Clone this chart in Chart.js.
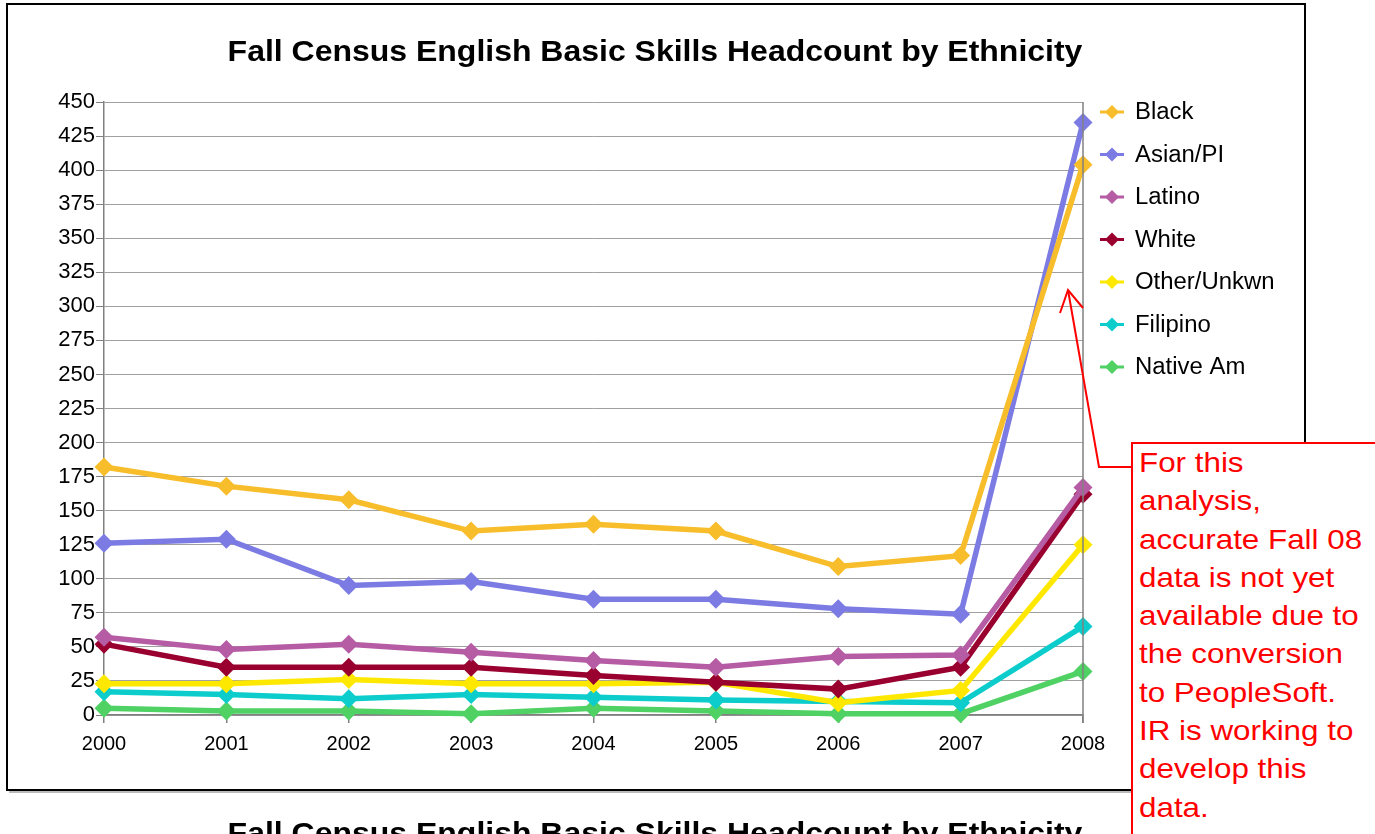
<!DOCTYPE html>
<html>
<head>
<meta charset="utf-8">
<script src="https://cdn.jsdelivr.net/npm/chart.js@4/dist/chart.umd.min.js"></script>
<style>
  body { margin: 0; background: #fff; overflow: hidden; }
  #wrap { position: relative; width: 1375px; height: 834px; }
  #title, #title2 {
    position: absolute; left: 0; width: 1310px; text-align: center;
    font: bold 30px "Liberation Sans", Arial, sans-serif; color: #000;
    transform: scaleX(1.066); transform-origin: 655px 0;
  }
  #title { top: 34px; }
  #title2 { top: 816px; }
  #note {
    position: absolute; left: 1131px; top: 442px; width: 250px; height: 420px;
    border: 2px solid #ff0000; background: #fff; box-sizing: border-box;
  }
  #note div {
    position: absolute; left: 6px; top: 0px; white-space: nowrap;
    font: 28px/38.3px "Liberation Sans", Arial, sans-serif; color: #ff0000;
    transform: scaleX(1.12); transform-origin: 0 0;
  }
</style>
</head>
<body>
<div id="wrap">
  <canvas id="myChart" width="1375" height="834"></canvas>
  <div id="title">Fall Census English Basic Skills Headcount by Ethnicity</div>
  <div id="title2">Fall Census English Basic Skills Headcount by Ethnicity</div>
  <div id="note"><div>For this<br>analysis,<br>accurate Fall 08<br>data is not yet<br>available due to<br>the conversion<br>to PeopleSoft.<br>IR is working to<br>develop this<br>data.</div></div>
</div>
<script>
var years = ['2000', '2001', '2002', '2003', '2004', '2005', '2006', '2007', '2008'];
var black = [182, 168, 158, 135, 140, 135, 109, 117, 404];
var asianPI = [126, 129, 95, 98, 85, 85, 78, 74, 435];
var latino = [57, 48, 52, 46, 40, 35, 43, 44, 167];
var white = [52, 35, 35, 35, 29, 24, 19, 35, 162];
var otherUnkwn = [23, 23, 26, 23, 23, 24, 9, 18, 125];
var filipino = [17, 15, 12, 15, 13, 11, 10, 9, 65];
var nativeAm = [5, 3, 3, 1, 5, 3, 1, 1, 32];
var yTicks = [0, 25, 50, 75, 100, 125, 150, 175, 200, 225, 250, 275, 300, 325, 350, 375, 400, 425, 450];

function series(label, data, color) {
  return {
    label: label,
    data: data,
    borderColor: color,
    backgroundColor: color,
    borderWidth: 5.5,
    pointStyle: 'rectRot',
    pointRadius: 9.5,
    pointHoverRadius: 9.5,
    pointBorderWidth: 0,
    tension: 0,
    clip: false
  };
}

// outer frame, plot border, legend and the red arrow
var decor = {
  id: 'decor',
  beforeDraw: function(chart) {
    var ctx = chart.ctx;
    ctx.save();
    ctx.fillStyle = '#fff';
    ctx.fillRect(0, 0, chart.width, chart.height);
    ctx.fillStyle = '#bbb';
    ctx.fillRect(9, 791, 1298, 2);
    ctx.strokeStyle = '#000';
    ctx.lineWidth = 2;
    ctx.strokeRect(7, 4, 1298, 786);
    ctx.restore();
  },
  afterDraw: function(chart) {
    var ctx = chart.ctx;
    var a = chart.chartArea;
    ctx.save();
    ctx.strokeStyle = '#808080';
    ctx.lineWidth = 1.5;
    ctx.beginPath();
    ctx.moveTo(a.right, a.top);
    ctx.lineTo(a.right, a.bottom + 8);
    ctx.stroke();

    // legend
    ctx.font = '23px "Liberation Sans", Arial, sans-serif';
    ctx.textBaseline = 'middle';
    chart.data.datasets.forEach(function(ds, i) {
      var y = 112 + i * 42.5;
      ctx.strokeStyle = ds.borderColor;
      ctx.fillStyle = ds.borderColor;
      ctx.lineWidth = 3;
      ctx.beginPath();
      ctx.moveTo(1100, y);
      ctx.lineTo(1124, y);
      ctx.stroke();
      ctx.beginPath();
      ctx.moveTo(1112, y - 7);
      ctx.lineTo(1119, y);
      ctx.lineTo(1112, y + 7);
      ctx.lineTo(1105, y);
      ctx.closePath();
      ctx.fill();
      ctx.fillStyle = '#000';
      ctx.save();
      ctx.translate(1135, y + 1);
      ctx.scale(1.04, 1);
      ctx.fillText(ds.label, 0, 0);
      ctx.restore();
    });

    // arrow to the 2008 values
    ctx.strokeStyle = '#ff0000';
    ctx.lineWidth = 2;
    ctx.beginPath();
    ctx.moveTo(1132, 467);
    ctx.lineTo(1099, 467);
    ctx.lineTo(1068, 290);
    ctx.stroke();
    ctx.beginPath();
    ctx.moveTo(1060, 313);
    ctx.lineTo(1068, 290);
    ctx.lineTo(1083, 308);
    ctx.stroke();
    ctx.restore();
  }
};

var ctx = document.getElementById('myChart');
new Chart(ctx, {
  type: 'line',
  data: {
    labels: years,
    datasets: [
      series('Black', black, '#f7bd2b'),
      series('Asian/PI', asianPI, '#7b7be3'),
      series('Latino', latino, '#b55ca5'),
      series('White', white, '#99002f'),
      series('Other/Unkwn', otherUnkwn, '#ffe800'),
      series('Filipino', filipino, '#0ccccc'),
      series('Native Am', nativeAm, '#4fd164')
    ]
  },
  options: {
    responsive: false,
    animation: false,
    layout: { padding: { left: 0, right: 292, top: 102, bottom: 79 } },
    plugins: {
      legend: { display: false },
      title: { display: false },
      tooltip: { enabled: false }
    },
    scales: {
      x: {
        offset: false,
        afterFit: function(scale) { scale.height = 40; },
        grid: { drawOnChartArea: false, drawTicks: true, tickLength: 8, color: '#808080', lineWidth: 1.5 },
        border: { color: '#808080', width: 1.5 },
        ticks: { color: '#000', font: { family: '"Liberation Sans", Arial, sans-serif', size: 20 }, padding: 9, maxRotation: 0 }
      },
      y: {
        min: 0,
        max: 450,
        afterFit: function(scale) { scale.width = 104; },
        afterBuildTicks: function(scale) {
          scale.ticks = yTicks.map(function(v) { return { value: v }; });
        },
        grid: { color: '#a0a0a0', lineWidth: 1, tickLength: 8, tickColor: '#808080' },
        border: { color: '#808080', width: 1.5 },
        ticks: { color: '#000', font: { family: '"Liberation Sans", Arial, sans-serif', size: 22 }, padding: 1 }
      }
    }
  },
  plugins: [decor]
});
</script>
</body>
</html>
